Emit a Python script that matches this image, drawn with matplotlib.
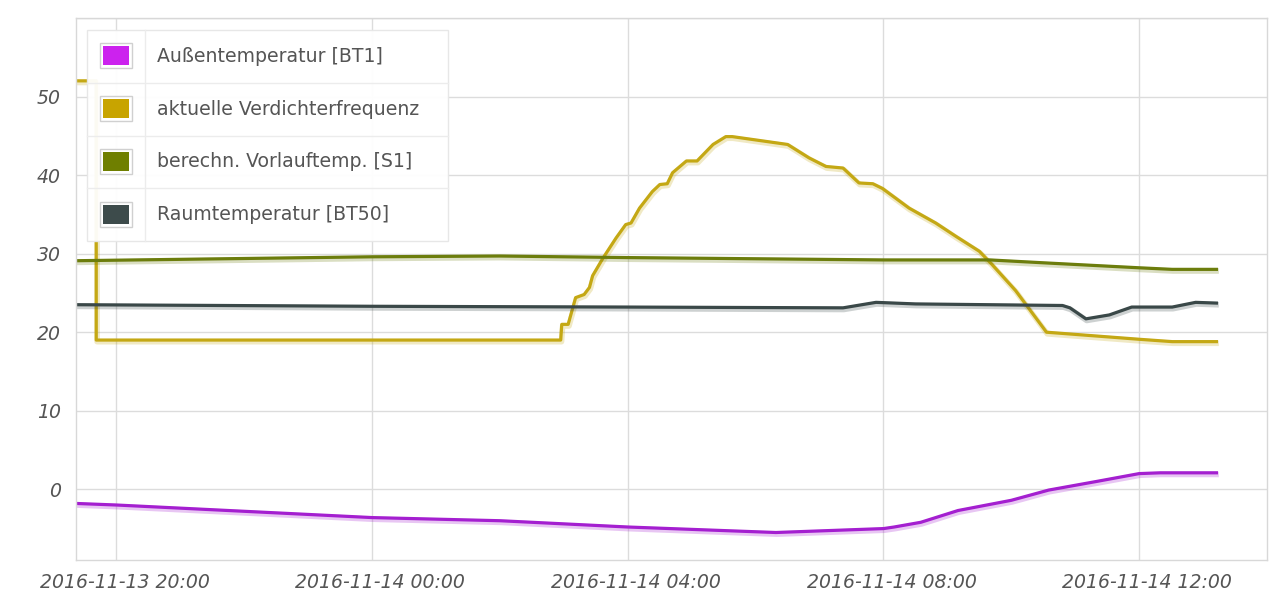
import matplotlib
matplotlib.use("Agg")
import matplotlib.pyplot as plt
import matplotlib.dates as mdates
import matplotlib.patheffects as pe
from matplotlib.patches import Rectangle
from matplotlib.lines import Line2D
from matplotlib.transforms import Affine2D, ScaledTranslation
import pandas as pd

plt.rcParams["font.family"] = ["DejaVu Sans"]

# --- data ---
outdoor_time = ["2016-11-13 19:22", "2016-11-13 20:00", "2016-11-13 22:00", "2016-11-14 00:00",
                "2016-11-14 02:00", "2016-11-14 04:00", "2016-11-14 06:19", "2016-11-14 08:00",
                "2016-11-14 08:10", "2016-11-14 08:35", "2016-11-14 09:10", "2016-11-14 10:00",
                "2016-11-14 10:35", "2016-11-14 11:20", "2016-11-14 12:00", "2016-11-14 12:20",
                "2016-11-14 13:14"]
outdoor = [-1.8, -2.0, -2.8, -3.6, -4.0, -4.8, -5.5, -5.0, -4.8, -4.2, -2.7, -1.4,
           -0.1, 1.0, 2.0, 2.1, 2.1]

comp_time = ["2016-11-13 19:22", "2016-11-13 19:41", "2016-11-13 19:41", "2016-11-14 02:57",
             "2016-11-14 02:58", "2016-11-14 03:04", "2016-11-14 03:11", "2016-11-14 03:19",
             "2016-11-14 03:24", "2016-11-14 03:27", "2016-11-14 03:37", "2016-11-14 03:49",
             "2016-11-14 03:58", "2016-11-14 04:03", "2016-11-14 04:11", "2016-11-14 04:23",
             "2016-11-14 04:30", "2016-11-14 04:37", "2016-11-14 04:42", "2016-11-14 04:55",
             "2016-11-14 05:05", "2016-11-14 05:20", "2016-11-14 05:32", "2016-11-14 05:38",
             "2016-11-14 06:30", "2016-11-14 06:50", "2016-11-14 07:06", "2016-11-14 07:22",
             "2016-11-14 07:37", "2016-11-14 07:50", "2016-11-14 07:59", "2016-11-14 08:24",
             "2016-11-14 08:49", "2016-11-14 09:08", "2016-11-14 09:30", "2016-11-14 09:42",
             "2016-11-14 10:04", "2016-11-14 10:33", "2016-11-14 12:00", "2016-11-14 12:31",
             "2016-11-14 13:14"]
comp = [52, 52, 19, 19, 21, 21, 24.4, 24.8, 25.7, 27.2, 29.5, 32.0, 33.7, 33.9, 35.8, 37.9,
        38.8, 38.9, 40.3, 41.8, 41.8, 43.9, 44.9, 44.9, 43.9, 42.2, 41.1, 40.9, 39.0, 38.9,
        38.3, 35.8, 33.9, 32.2, 30.3, 28.6, 25.3, 20.0, 19.1, 18.8, 18.8]

flow_time = ["2016-11-13 19:22", "2016-11-14 00:00", "2016-11-14 02:00", "2016-11-14 04:00",
             "2016-11-14 08:00", "2016-11-14 09:40", "2016-11-14 10:35", "2016-11-14 12:00",
             "2016-11-14 12:31", "2016-11-14 13:14"]
flow = [29.1, 29.6, 29.7, 29.5, 29.2, 29.2, 28.8, 28.2, 28.0, 28.0]

room_time = ["2016-11-13 19:22", "2016-11-14 00:00", "2016-11-14 04:00", "2016-11-14 07:22",
             "2016-11-14 07:53", "2016-11-14 08:30", "2016-11-14 10:48", "2016-11-14 10:55",
             "2016-11-14 11:10", "2016-11-14 11:32", "2016-11-14 11:53", "2016-11-14 12:31",
             "2016-11-14 12:53", "2016-11-14 13:14"]
room = [23.5, 23.3, 23.2, 23.1, 23.8, 23.6, 23.4, 23.1, 21.7, 22.2, 23.2, 23.2, 23.8, 23.7]

labels = ["Außentemperatur [BT1]", "aktuelle Verdichterfrequenz",
          "berechn. Vorlauftemp. [S1]", "Raumtemperatur [BT50]"]
line_colors = ["#a41fd0", "#c4a814", "#6c7d0c", "#3a4848"]
swatch_colors = ["#cc22ee", "#c8a400", "#6f7f00", "#3d4b4b"]

fig = plt.figure(figsize=(12.8, 6.04), dpi=100)
ax = fig.add_axes([76 / 1280, 44 / 604, 1191 / 1280, 542 / 604])

series = [(outdoor_time, outdoor), (comp_time, comp), (flow_time, flow), (room_time, room)]
for (t, v), c in zip(series, line_colors):
    ax.plot(pd.to_datetime(t), v, color=c, lw=2.3, solid_joinstyle="round",
            solid_capstyle="butt",
            path_effects=[pe.SimpleLineShadow(offset=(0.6, -1.2), shadow_color=c, alpha=0.25,
                                              linewidth=4),
                          pe.Normal()])

ax.set_xlim(pd.Timestamp("2016-11-13 19:22"), pd.Timestamp("2016-11-14 14:00"))
ax.set_ylim(-9, 60)
ax.set_yticks([0, 10, 20, 30, 40, 50, 60])
ax.set_yticklabels(["0", "10", "20", "30", "40", "50", ""])
ax.xaxis.set_major_locator(mdates.HourLocator(byhour=[0, 4, 8, 12, 16, 20]))
ax.xaxis.set_major_formatter(mdates.DateFormatter("%Y-%m-%d %H:%M"))
ax.grid(True, color="#dcdcdc", lw=1)
ax.set_axisbelow(True)
ax.tick_params(length=0, labelsize=13.6, labelcolor="#555555")
ax.tick_params(axis="x", pad=9)
ax.tick_params(axis="y", pad=11)
shift = ScaledTranslation(8 / 100, 0, fig.dpi_scale_trans)
for lab in ax.get_xticklabels():
    lab.set_fontstyle("italic")
    lab.set_transform(lab.get_transform() + shift)
for lab in ax.get_yticklabels():
    lab.set_fontstyle("italic")
for s in ax.spines.values():
    s.set_color("#d8d8d8")
    s.set_linewidth(1)

# legend drawn as a small table in pixel coordinates (y from top)
px = Affine2D().scale(1 / 1280, -1 / 604).translate(0, 1) + fig.transFigure
box = Rectangle((87, 30), 361, 211, transform=px, facecolor="white", edgecolor="#e6e6e6",
                lw=1, alpha=0.95, zorder=5)
fig.add_artist(box)
row_h = 211 / 4
fig.add_artist(Line2D([145, 145], [30, 241], transform=px, color="#ececec", lw=1, zorder=6))
for i, (lab, sc) in enumerate(zip(labels, swatch_colors)):
    top = 30 + i * row_h
    if i > 0:
        fig.add_artist(Line2D([87, 448], [top, top], transform=px, color="#ececec", lw=1,
                              zorder=6))
    yc = top + row_h / 2
    fig.add_artist(Rectangle((100, yc - 13), 32, 25, transform=px, facecolor="white",
                             edgecolor="#d0d0d0", lw=1, zorder=6))
    fig.add_artist(Rectangle((103, yc - 10), 26, 19, transform=px, facecolor=sc,
                             edgecolor="none", zorder=7))
    fig.text(157, yc, lab, transform=px, ha="left", va="center", fontsize=13.6,
             color="#555555", zorder=7)

fig.savefig("out.png", dpi=100)
plt.close(fig)
